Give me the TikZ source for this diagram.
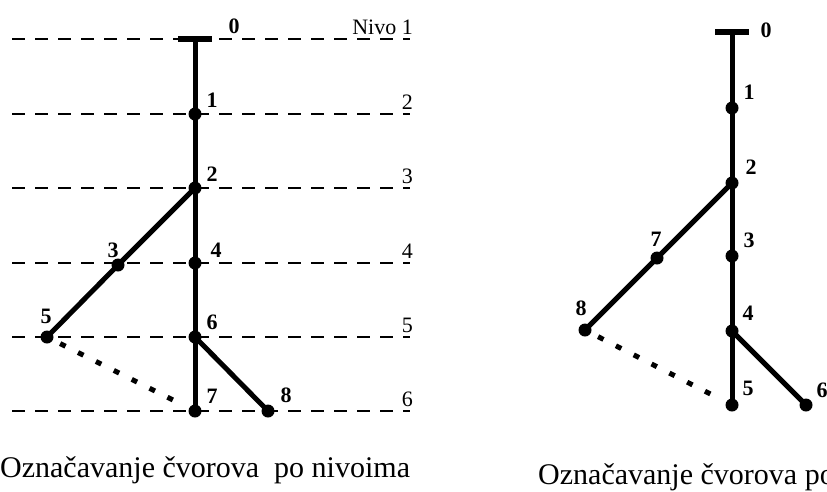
\documentclass[tikz,border=0pt]{standalone}
\usepackage{fontspec}
\setmainfont{Liberation Serif}
\usetikzlibrary{positioning}

\begin{document}
\begin{tikzpicture}[x=1pt, y=-1pt,
  V/.style={circle, fill, inner sep=0pt, minimum size=13pt},
  T/.style={fill, inner sep=0pt, minimum width=34pt, minimum height=5.5pt},
  E/.style={line width=5pt},
  D/.style={line width=5pt, dash pattern=on 6pt off 14pt, shorten <=8pt, shorten >=8pt},
  lvl/.style={line width=1.2pt, dash pattern=on 13pt off 10pt},
  num/.style={font=\bfseries\fontsize{22}{22}\selectfont, inner sep=0pt},
  lvltext/.style={font=\fontsize{22}{22}\selectfont, inner sep=0pt, anchor=base east},
  captxt/.style={font=\fontsize{30}{30}\selectfont, inner sep=0pt, anchor=base west}]
\useasboundingbox (0,0) rectangle (827,491);

% levels
\foreach \y/\t [count=\i] in {39/Nivo 1,114/2,188/3,263/4,337/5,411/6}{
  \draw[lvl] (12,\y) -- (410,\y);
  \node[lvltext] (n\i) at (413,\y-5) {\t};
}

% left tree (by levels)
\node[T] (a0) at (195,39) {};
\node[V] (a1) at (195,114) {};
\node[V] (a2) at (195,188) {};
\node[V] (a3) at (118,265) {};
\node[V] (a4) at (195,263) {};
\node[V] (a5) at (47,337) {};
\node[V] (a6) at (195,337) {};
\node[V] (a7) at (195,411) {};
\node[V] (a8) at (268,411) {};
\draw[E] (a0.center) -- (a1.center) -- (a2.center) -- (a4.center) -- (a6.center) -- (a7.center);
\draw[E] (a2.center) -- (a3.center) -- (a5.center);
\draw[E] (a6.center) -- (a8.center);
\draw[D] (a5) -- (a7);
\node[num] (la0) at (234,26) {0};
\node[num] (la1) at (212,100) {1};
\node[num] (la2) at (212,174) {2};
\node[num] (la3) at (113,250) {3};
\node[num] (la4) at (216,250) {4};
\node[num] (la5) at (46,316) {5};
\node[num] (la6) at (212,322) {6};
\node[num] (la7) at (212,396) {7};
\node[num] (la8) at (286,395) {8};

% right tree (by depth)
\node[T] (b0) at (732,32) {};
\node[V] (b1) at (732,108) {};
\node[V] (b2) at (732,183) {};
\node[V] (b7) at (657,258) {};
\node[V] (b3) at (732,256) {};
\node[V] (b8) at (585,330) {};
\node[V] (b4) at (732,331) {};
\node[V] (b5) at (732,405) {};
\node[V] (b6) at (806,405) {};
\draw[E] (b0.center) -- (b1.center) -- (b2.center) -- (b3.center) -- (b4.center) -- (b5.center);
\draw[E] (b2.center) -- (b7.center) -- (b8.center);
\draw[E] (b4.center) -- (b6.center);
\draw[D] (b8) -- (b5);
\node[num] (lb0) at (766,30) {0};
\node[num] (lb1) at (749,92) {1};
\node[num] (lb2) at (751,167) {2};
\node[num] (lb3) at (749,240) {3};
\node[num] (lb7) at (656,239) {7};
\node[num] (lb8) at (581,308) {8};
\node[num] (lb4) at (748,313) {4};
\node[num] (lb5) at (748,388) {5};
\node[num] (lb6) at (822,390) {6};

% captions
\node[captxt] (c1) at (0,477) {Označavanje čvorova\ \ po nivoima};
\node[captxt] (c2) at (538,484) {Označavanje čvorova po};
\end{tikzpicture}
\end{document}
